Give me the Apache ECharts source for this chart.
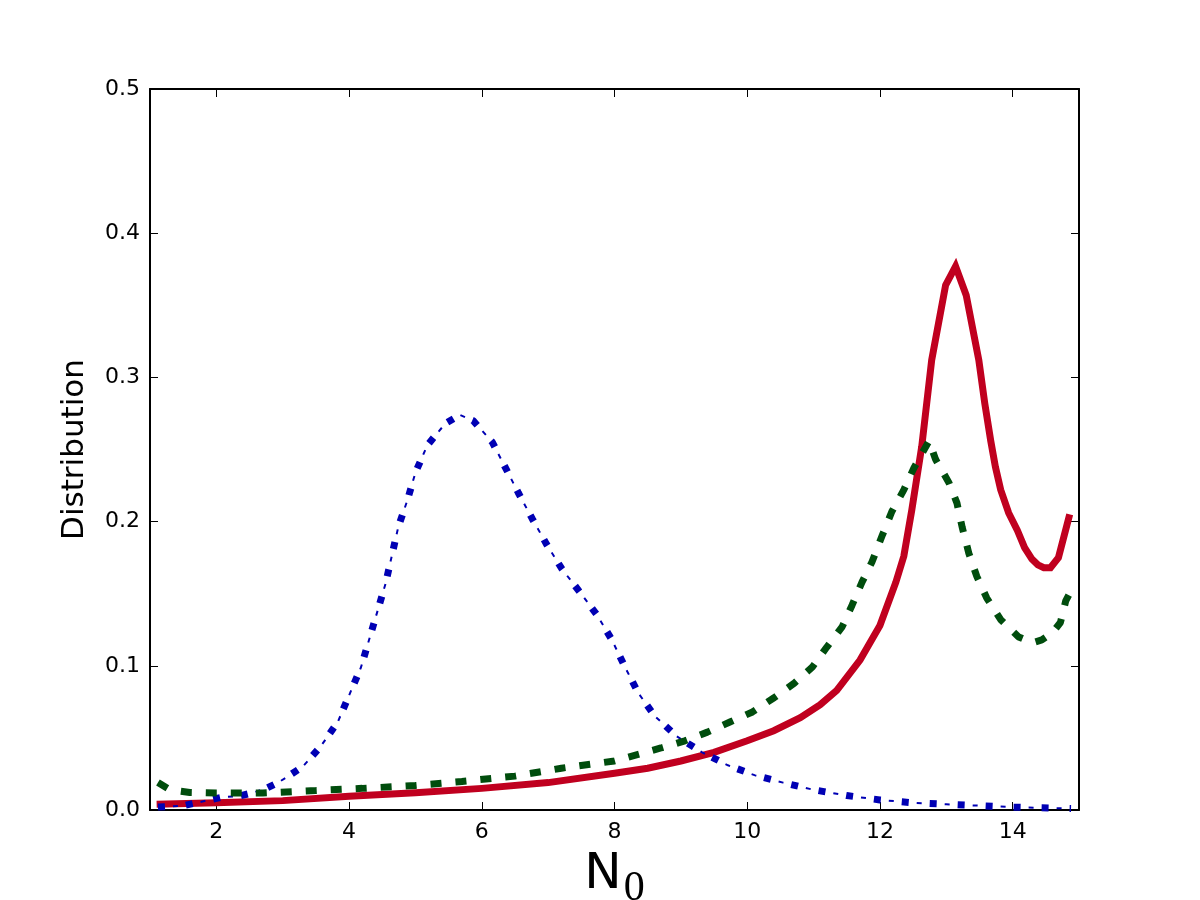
<!DOCTYPE html>
<html>
<head>
<meta charset="utf-8">
<script src="https://cdn.jsdelivr.net/npm/echarts@6/dist/echarts.min.js"></script>
<style>
html,body{margin:0;padding:0;background:#fff;}
#chart{width:1200px;height:900px;}
</style>
</head>
<body>
<div id="chart"></div>
<script>
const xTicks = [2, 4, 6, 8, 10, 12, 14];
const yTicks = [0, 0.1, 0.2, 0.3, 0.4, 0.5];

const redX = [1.1, 2, 3, 4, 5, 6, 7, 8, 8.5, 9, 9.5, 10, 10.4, 10.8, 11.1, 11.35, 11.7, 12.0, 12.24, 12.36, 12.48, 12.63, 12.78, 12.99, 13.14, 13.3, 13.49, 13.58, 13.67, 13.74, 13.82, 13.94, 14.07, 14.18, 14.29, 14.38, 14.47, 14.57, 14.69, 14.86];
const redY = [0.004, 0.005, 0.0065, 0.0095, 0.012, 0.015, 0.019, 0.0255, 0.029, 0.034, 0.040, 0.048, 0.055, 0.064, 0.073, 0.083, 0.104, 0.128, 0.158, 0.176, 0.208, 0.252, 0.312, 0.364, 0.377, 0.357, 0.312, 0.282, 0.256, 0.238, 0.222, 0.206, 0.194, 0.182, 0.174, 0.170, 0.168, 0.168, 0.175, 0.205];

const greenX = [1.12, 1.3, 1.6, 2, 2.7, 3.5, 4.2, 5, 5.7, 6.5, 7.2, 8, 8.7, 9.06, 9.4, 9.74, 10.08, 10.41, 10.71, 10.98, 11.2, 11.43, 11.58, 11.73, 11.88, 12.04, 12.18, 12.36, 12.51, 12.74, 12.84, 13.04, 13.16, 13.24, 13.34, 13.46, 13.61, 13.82, 14.09, 14.3, 14.44, 14.6, 14.72, 14.8, 14.88];
const greenY = [0.019, 0.014, 0.0122, 0.0118, 0.0118, 0.0135, 0.015, 0.017, 0.0198, 0.0235, 0.029, 0.034, 0.043, 0.048, 0.054, 0.061, 0.068, 0.078, 0.088, 0.099, 0.113, 0.127, 0.142, 0.158, 0.172, 0.191, 0.207, 0.222, 0.237, 0.256, 0.243, 0.227, 0.213, 0.196, 0.178, 0.162, 0.147, 0.132, 0.120, 0.116, 0.118, 0.123, 0.130, 0.145, 0.152];

const blueX = [1.12, 1.5, 1.9, 2.1, 2.35, 2.55, 2.75, 2.93, 3.1, 3.3, 3.57, 3.83, 4.18, 4.55, 4.74, 4.88, 5.0, 5.18, 5.45, 5.67, 5.87, 6.16, 6.35, 6.55, 6.76, 6.98, 7.21, 7.48, 7.74, 7.96, 8.16, 8.36, 8.61, 8.94, 9.32, 9.71, 10.12, 10.54, 11, 11.5, 12, 12.5, 13, 13.5, 14, 14.88];
const blueY = [0.002, 0.003, 0.007, 0.009, 0.0097, 0.012, 0.015, 0.019, 0.024, 0.030, 0.044, 0.061, 0.099, 0.157, 0.196, 0.215, 0.234, 0.253, 0.268, 0.274, 0.270, 0.255, 0.238, 0.220, 0.202, 0.184, 0.167, 0.151, 0.135, 0.118, 0.099, 0.081, 0.065, 0.051, 0.040, 0.031, 0.024, 0.019, 0.014, 0.010, 0.007, 0.005, 0.004, 0.003, 0.002, 0.001];

const pairs = (xs, ys) => xs.map((x, i) => [x, ys[i]]);

const chart = echarts.init(document.getElementById('chart'), null, {renderer: 'canvas'});
const font = 'DejaVu Sans';
const frame = {show: true, onZero: false, lineStyle: {color: '#000', width: 2}};
const tick = (vals) => ({show: true, inside: true, length: 8, customValues: vals, lineStyle: {color: '#000', width: 1}});

chart.setOption({
  animation: false,
  backgroundColor: '#fff',
  grid: {left: 150, right: 121, top: 89, bottom: 90, containLabel: false, outerBoundsMode: 'none'},
  xAxis: [
    {
      type: 'value', min: 1, max: 15, position: 'bottom',
      axisLine: frame, axisTick: tick(xTicks), splitLine: {show: false},
      axisLabel: {show: true, customValues: xTicks, margin: 11, color: '#000', fontFamily: font, fontSize: 22},
      name: '{n|N}{s|0}', nameLocation: 'middle', nameGap: 40,
      nameTextStyle: {rich: {
        n: {fontFamily: font, fontSize: 50, color: '#000', verticalAlign: 'bottom'},
        s: {fontFamily: 'Liberation Serif', fontSize: 42, color: '#000', padding: [0, 0, -10, 2], verticalAlign: 'bottom'}
      }}
    },
    {
      type: 'value', min: 1, max: 15, position: 'top',
      axisLine: frame, axisTick: tick(xTicks), axisLabel: {show: false}, splitLine: {show: false}
    }
  ],
  yAxis: [
    {
      type: 'value', min: 0, max: 0.5, interval: 0.1, position: 'left',
      axisLine: frame, axisTick: {show: true, inside: true, length: 8, lineStyle: {color: '#000', width: 1}},
      splitLine: {show: false},
      axisLabel: {margin: 10, color: '#000', fontFamily: font, fontSize: 22, formatter: v => v.toFixed(1)},
      name: 'Distribution', nameLocation: 'middle', nameGap: 60,
      nameTextStyle: {fontFamily: font, fontSize: 31, color: '#000'}
    },
    {
      type: 'value', min: 0, max: 0.5, interval: 0.1, position: 'right',
      axisLine: frame, axisTick: {show: true, inside: true, length: 8, lineStyle: {color: '#000', width: 1}},
      axisLabel: {show: false}, splitLine: {show: false}
    }
  ],
  series: [
    {
      type: 'line', data: pairs(redX, redY), showSymbol: false, symbol: 'none', z: 2,
      lineStyle: {color: '#c0001f', width: 7, cap: 'butt', join: 'miter'}
    },
    {
      type: 'line', data: pairs(blueX, blueY), showSymbol: false, symbol: 'none', z: 3,
      lineStyle: {color: '#0000b4', width: 7, type: [7, 21], cap: 'butt'}
    },
    {
      type: 'line', data: pairs(blueX, blueY), showSymbol: false, symbol: 'none', z: 3,
      lineStyle: {color: '#0000b4', width: 2, type: [5, 23], dashOffset: 13, cap: 'butt'}
    },
    {
      type: 'line', data: pairs(greenX, greenY), showSymbol: false, symbol: 'none', z: 4,
      lineStyle: {color: '#004d0d', width: 7, type: [11, 14], cap: 'butt'}
    }
  ]
});
</script>
</body>
</html>
